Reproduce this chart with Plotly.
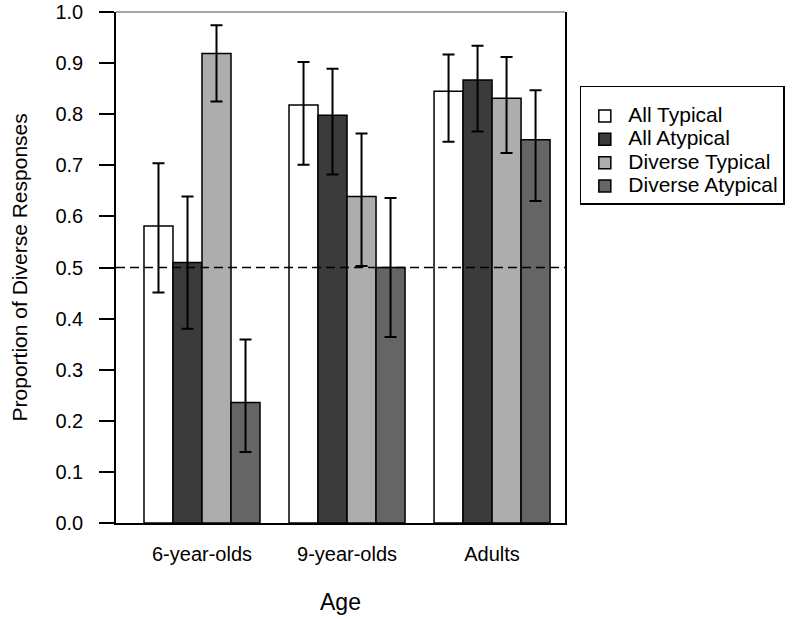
import plotly.graph_objects as go

categories = ["6-year-olds", "9-year-olds", "Adults"]
series_names = ["All Typical", "All Atypical", "Diverse Typical", "Diverse Atypical"]

all_typical = [0.581, 0.818, 0.845]
all_typical_hi = [0.704, 0.902, 0.917]
all_typical_lo = [0.451, 0.701, 0.746]

all_atypical = [0.510, 0.798, 0.867]
all_atypical_hi = [0.639, 0.889, 0.934]
all_atypical_lo = [0.380, 0.682, 0.766]

diverse_typical = [0.919, 0.639, 0.831]
diverse_typical_hi = [0.974, 0.762, 0.912]
diverse_typical_lo = [0.825, 0.503, 0.724]

diverse_atypical = [0.236, 0.500, 0.750]
diverse_atypical_hi = [0.359, 0.636, 0.847]
diverse_atypical_lo = [0.139, 0.364, 0.630]

y_ticks = [0.0, 0.1, 0.2, 0.3, 0.4, 0.5, 0.6, 0.7, 0.8, 0.9, 1.0]
y_tick_text = ["0.0", "0.1", "0.2", "0.3", "0.4", "0.5", "0.6", "0.7", "0.8", "0.9", "1.0"]
chance_level = 0.5
y_title = "Proportion of Diverse Responses"
x_title = "Age"

colors = ["#ffffff", "#3b3b3b", "#adadad", "#656565"]
FONT = "Arial, Liberation Sans, sans-serif"

values = [all_typical, all_atypical, diverse_typical, diverse_atypical]
highs = [all_typical_hi, all_atypical_hi, diverse_typical_hi, diverse_atypical_hi]
lows = [all_typical_lo, all_atypical_lo, diverse_typical_lo, diverse_atypical_lo]

fig = go.Figure()
for name, v, hi, lo, c in zip(series_names, values, highs, lows, colors):
    fig.add_trace(go.Bar(
        x=categories, y=v,
        name='<span style="font-size:21px">' + name + '</span>',
        marker=dict(color=c, line=dict(color="black", width=1.5)),
        error_y=dict(type="data", symmetric=False,
                     array=[h - a for h, a in zip(hi, v)],
                     arrayminus=[a - l for a, l in zip(v, lo)],
                     color="black", thickness=2, width=6),
    ))

fig.add_shape(type="line", xref="paper", x0=0, x1=1, yref="y", y0=chance_level, y1=chance_level,
              line=dict(color="black", width=1.5, dash="9px,5px"), layer="above")
# top border (gray)
fig.add_shape(type="line", xref="paper", x0=0, x1=1, yref="paper", y0=1, y1=1,
              line=dict(color="#8a8a8a", width=1.5), layer="above")

fig.add_annotation(text=y_title, textangle=-90, xref="paper", yref="paper",
                   x=-0.214, y=0.5, xanchor="center", yanchor="middle", showarrow=False,
                   font=dict(family=FONT, size=21, color="black"))

fig.update_layout(
    width=800, height=619,
    margin=dict(l=116, r=235, t=11.5, b=96, autoexpand=False),
    paper_bgcolor="white", plot_bgcolor="white",
    barmode="group", bargap=0.2, bargroupgap=0,
    font=dict(family=FONT, size=20, color="black"),
    showlegend=True,
    legend=dict(x=1.033, xanchor="left", y=0.856, yanchor="top",
                bordercolor="black", borderwidth=1.5, bgcolor="white",
                font=dict(family=FONT, size=15.6, color="black"),
                title=dict(text=" ", font=dict(size=9.5)),
                tracegroupgap=0, itemwidth=37),
    xaxis=dict(range=[-0.593, 2.503], showline=True, linecolor="black", linewidth=1.5,
               ticks="", showgrid=False, zeroline=False,
               tickfont=dict(family=FONT, size=20, color="black"), ticklabelstandoff=12,
               title=dict(text=x_title, font=dict(family=FONT, size=23, color="black"), standoff=30)),
    yaxis=dict(range=[0, 1.0], showline=True, mirror=True, linecolor="black", linewidth=1.5,
               tickvals=y_ticks, ticktext=y_tick_text, ticks="outside", ticklen=15,
               tickwidth=1.5, tickcolor="black", showgrid=False, zeroline=False,
               ticklabeloverflow="allow",
               tickfont=dict(family=FONT, size=20, color="black"), ticklabelstandoff=12),
)

fig.write_html("out.html", config={"displayModeBar": False},
               post_script="document.body.style.margin='0';")
